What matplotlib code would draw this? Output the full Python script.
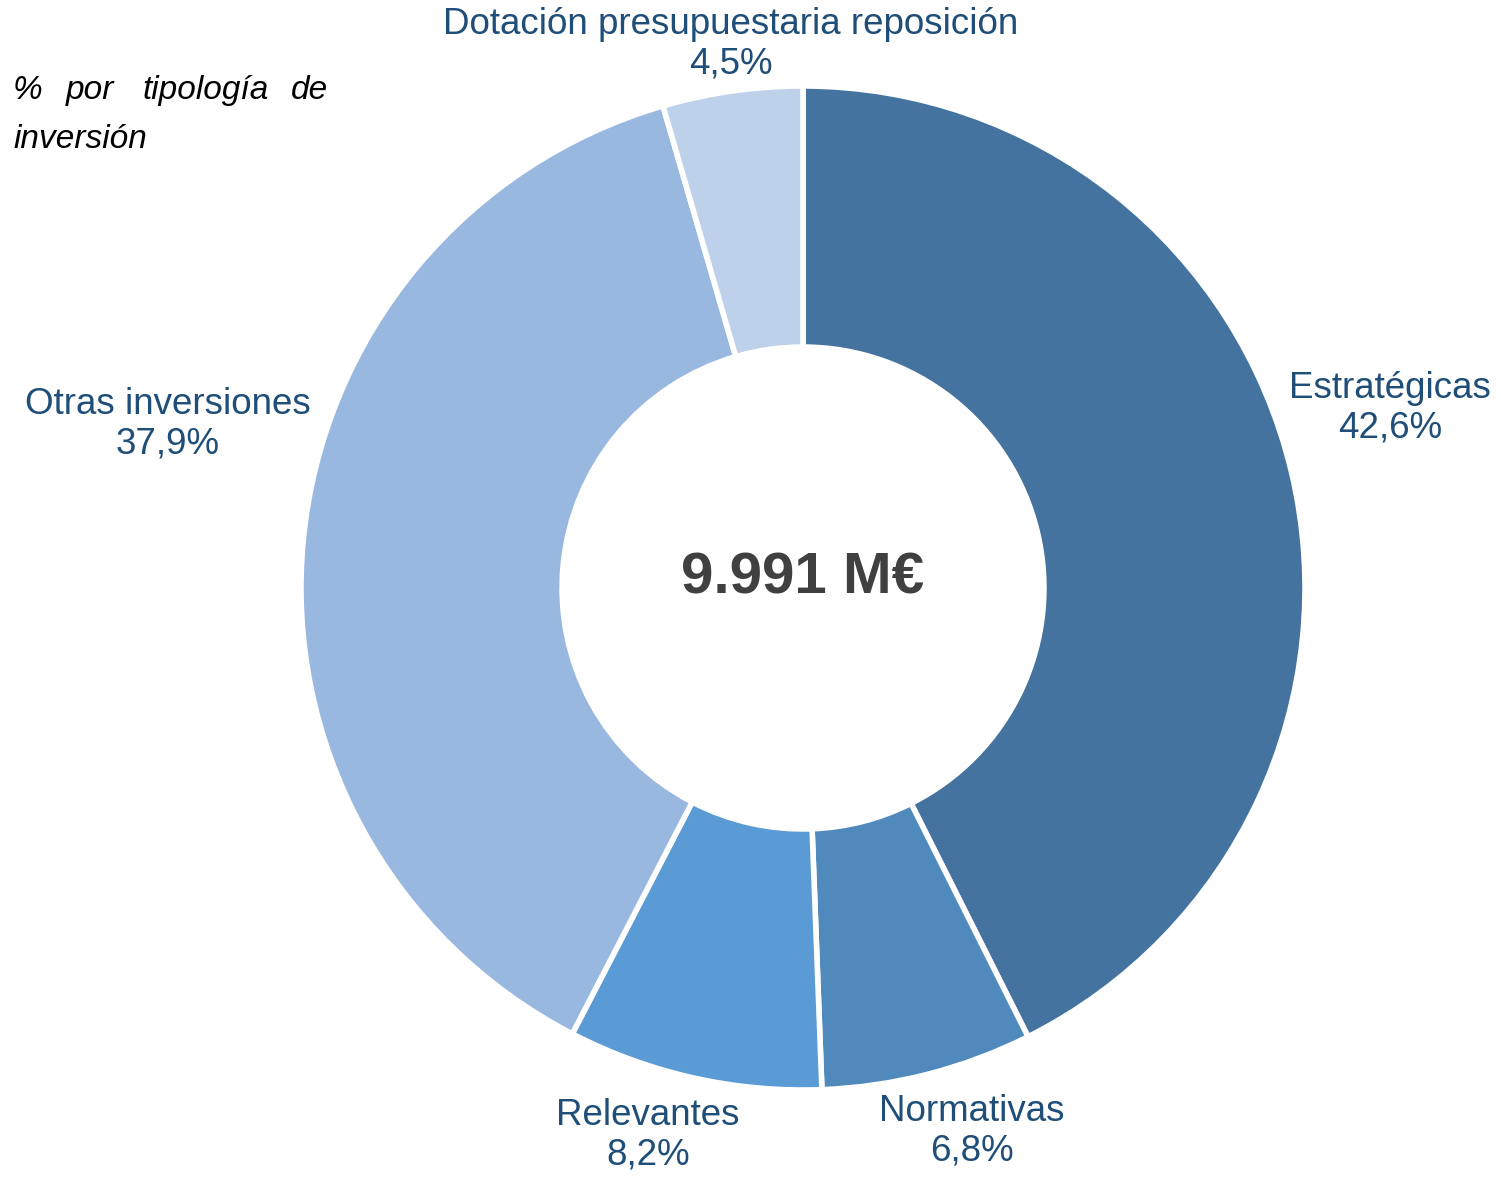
import matplotlib.pyplot as plt

# Datos
categorias = ['Estratégicas', 'Normativas', 'Relevantes', 'Otras inversiones',
              'Dotación presupuestaria reposición']
valores = [42.6, 6.8, 8.2, 37.9, 4.5]
total_texto = '9.991 M€'
titulo_palabras = ['%', 'por', 'tipología', 'de']
titulo_linea2 = 'inversión'

colores = ['#44739f', '#508abc', '#5b9bd5', '#99b8df', '#bdd1ea']
color_texto = '#1f4e79'

W, H = 1501, 1189


def main():
    plt.rcParams['font.family'] = ['Liberation Sans', 'DejaVu Sans']

    fig = plt.figure(figsize=(W / 100, H / 100), dpi=100)
    ax = fig.add_axes([0, 0, 1, 1])

    # Donut (coordenadas en pixeles, eje y invertido -> sentido visual)
    cx, cy, r = 803, 588, 502
    ax.pie(valores, colors=colores, startangle=-90, counterclock=True,
           center=(cx, cy), radius=r, frame=True,
           wedgeprops=dict(width=r * 0.52, edgecolor='white', linewidth=4))
    ax.set_xlim(0, W)
    ax.set_ylim(H, 0)
    ax.set_aspect('equal')
    ax.axis('off')

    # Etiquetas
    posiciones = [(1390, 408), (972, 1131), (648, 1135), (168, 424), (731, 44)]
    for cat, val, (x, y) in zip(categorias, valores, posiciones):
        etiqueta = f'{cat}\n{val:.1f}%'.replace('.', ',')
        ax.text(x, y, etiqueta, ha='center', va='center', fontsize=26.5,
                color=color_texto, linespacing=1.17)

    # Total en el centro
    ax.text(cx, 578, total_texto, ha='center', va='center', fontsize=42,
            fontweight='bold', color='#404040')

    # Titulo justificado
    xs = [13, 66, 142, 328]
    alineacion = ['left', 'left', 'left', 'right']
    for palabra, x, ha in zip(titulo_palabras, xs, alineacion):
        ax.text(x, 99, palabra, ha=ha, va='baseline', fontsize=24,
                style='italic', color='black')
    ax.text(13, 148, titulo_linea2, ha='left', va='baseline', fontsize=24,
            style='italic', color='black')

    fig.savefig('out.png', dpi=100, facecolor='white')


if __name__ == "__main__":
    main()
